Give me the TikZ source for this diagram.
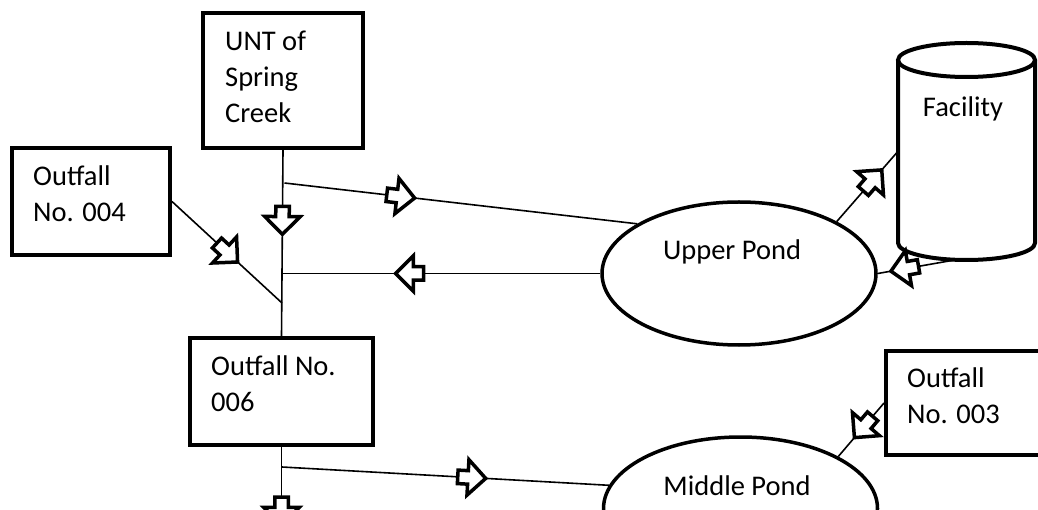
\documentclass[tikz,border=0pt]{standalone}
\usepackage{fontspec}
\setmainfont{Carlito}
\usetikzlibrary{shapes.geometric,shapes.arrows}
\begin{document}
\begin{tikzpicture}[x=1pt,y=-1pt,
  every node/.style={font=\fontsize{28.5}{36}\selectfont},
  box/.style={draw,line width=4pt,inner sep=0pt},
  txt/.style={anchor=north west,align=left,inner sep=0pt},
  pond/.style={draw,ellipse,line width=3.5pt,minimum width=274pt,minimum height=143pt},
  flow/.style={single arrow,draw,line width=3.5pt,fill=white,inner sep=5pt,
    minimum height=28pt,single arrow head extend=11pt,sloped,allow upside down},
  pipe/.style={line width=1.6pt}]
\clip (0,0) rectangle (1038,510);
% boxes
\node[box,minimum width=160pt,minimum height=135pt] (unt) at (283,80.5) {};
\node[box,minimum width=158pt,minimum height=107pt] (o4) at (91,201.5) {};
\node[box,minimum width=183pt,minimum height=107pt] (o6) at (281.5,391.5) {};
\node[box,minimum width=158pt,minimum height=104pt] (o3) at (965,403) {};
\node[txt] (untt) at (225,30.5) {UNT of\\Spring\\Creek};
\node[txt] (o4t) at (33,165.5) {Outfall\\No. 004};
\node[txt] (o6t) at (211,355.5) {Outfall No.\\006};
\node[txt] (o3t) at (907,367.5) {Outfall\\No. 003};
% ponds
\node[pond] (up) at (739,273.5) {};
\node[pond] (mid) at (740.5,508.5) {};
\node[anchor=base] (upt) at (732,260) {Upper Pond};
\node[anchor=base] (midt) at (737,495) {Middle Pond};
% facility
\node[minimum width=137pt,minimum height=217pt,inner sep=0pt] (fac) at (966.5,151.5) {};
\draw[line width=4pt] (898,60) -- (898,243)
  arc[start angle=180,end angle=0,x radius=68.5,y radius=17] -- (1035,60);
\draw[line width=4pt] (966.5,60) ellipse[x radius=68.5,y radius=17];
\node[anchor=base] (fact) at (963,117) {Facility};
% junctions
\coordinate (j1) at (284.5,183);
\coordinate (j2) at (up.west -| unt.south);
\coordinate (j3) at (282,303);
\coordinate (j4) at (282,467);
\coordinate (out) at (281.5,525);
% flows
\draw[pipe] (unt.south) -- node[flow,pos=0.36] {} (o6.north);
\draw[pipe] (j1) -- node[flow,pos=0.32] {} (up.154);
\draw[pipe] (up.west) -- node[flow,pos=0.59] {} (j2);
\draw[pipe] (o4.east) -- node[flow,pos=0.48] {} (j3);
\draw[pipe] (up.28) -- node[flow,pos=0.55] {} (fac.west);
\draw[pipe] ([xshift=-13pt]fac.south) -- node[flow,pos=0.6] {} (up.east);
\draw[pipe] (j4) -- node[flow,pos=0.57] {} (mid.170);
\draw[pipe] (o3.west) -- node[flow,pos=0.4] {} (mid.28);
\draw[pipe] (o6.south) -- node[flow,pos=0.78] {} (out);
\end{tikzpicture}
\end{document}
